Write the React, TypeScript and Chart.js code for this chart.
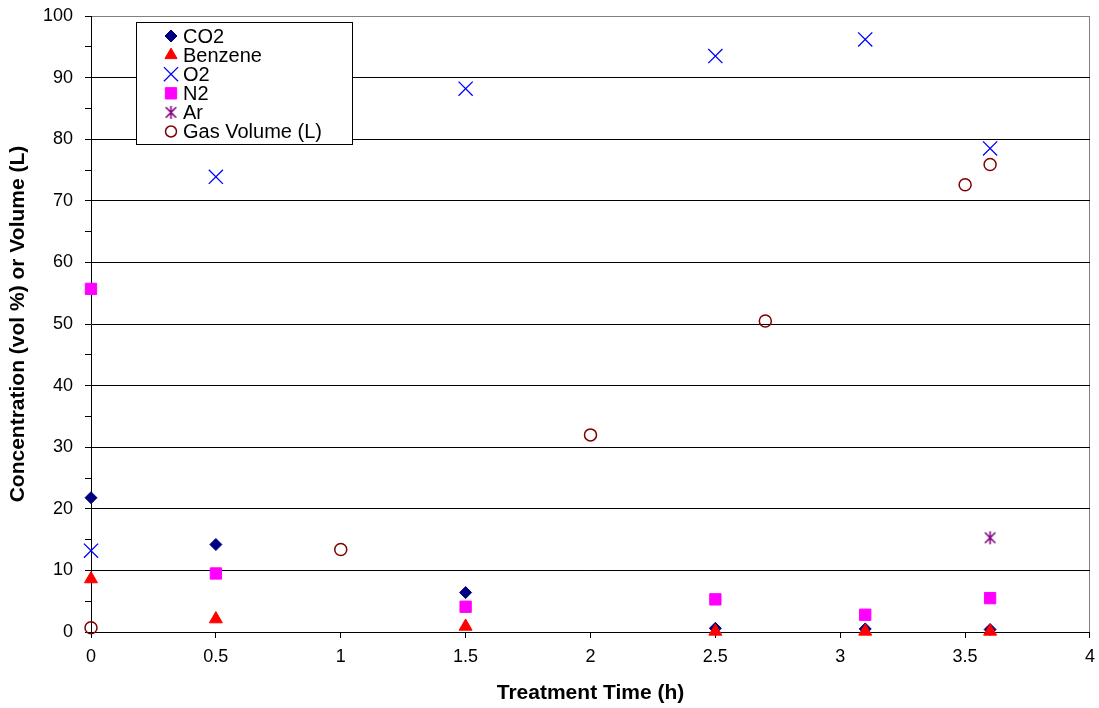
import React, { useEffect, useRef } from "react";
import { Chart, registerables } from "chart.js";
import { drawPoint } from "chart.js/helpers";

Chart.register(...registerables);

const seriesNames = ["CO2", "Benzene", "O2", "N2", "Ar", "Gas Volume (L)"];

const co2Time = [0, 0.5, 1.5, 2.5, 3.1, 3.6];
const co2Values = [21.8, 14.2, 6.4, 0.6, 0.5, 0.4];

const benzeneTime = [0, 0.5, 1.5, 2.5, 3.1, 3.6];
const benzeneValues = [8.6, 2.1, 0.9, 0.1, 0.1, 0.1];

const o2Time = [0, 0.5, 1.5, 2.5, 3.1, 3.6];
const o2Values = [13.2, 73.9, 88.2, 93.5, 96.2, 78.5];

const n2Time = [0, 0.5, 1.5, 2.5, 3.1, 3.6];
const n2Values = [55.7, 9.5, 4.1, 5.3, 2.8, 5.5];

const arTime = [3.6];
const arValues = [15.3];

const gasTime = [0, 1, 2, 2.7, 3.5, 3.6];
const gasValues = [0.7, 13.4, 32.0, 50.5, 72.6, 75.9];

const FONT = '"Liberation Sans", Arial, sans-serif';

function zip(xs: number[], ys: number[]) {
  return xs.map((x, i) => ({ x, y: ys[i] }));
}

function makeAsterisk(color: string, size: number): HTMLCanvasElement {
  const c = document.createElement("canvas");
  c.width = size;
  c.height = size;
  const g = c.getContext("2d")!;
  g.strokeStyle = color;
  g.lineWidth = 1.6;
  const m = size / 2;
  const r = size / 2 - 1;
  g.beginPath();
  g.moveTo(m, m - r);
  g.lineTo(m, m + r);
  g.moveTo(m - r * 0.8, m - r * 0.8);
  g.lineTo(m + r * 0.8, m + r * 0.8);
  g.moveTo(m + r * 0.8, m - r * 0.8);
  g.lineTo(m - r * 0.8, m + r * 0.8);
  g.stroke();
  return c;
}

const legendPlugin = {
  id: "boxLegend",
  afterDraw(chart: any) {
    const ctx = chart.ctx as CanvasRenderingContext2D;
    ctx.save();
    const x0 = 136.5, y0 = 22.5, w = 216, h = 122;
    ctx.fillStyle = "#fff";
    ctx.fillRect(x0, y0, w, h);
    ctx.strokeStyle = "#000";
    ctx.lineWidth = 1;
    ctx.strokeRect(x0, y0, w, h);
    chart.data.datasets.forEach((ds: any, i: number) => {
      const y = 36 + i * 19.1;
      const cx = 171;
      if (ds.pointStyle instanceof HTMLCanvasElement) {
        const img = ds.pointStyle as HTMLCanvasElement;
        ctx.drawImage(img, cx - img.width / 2, y - img.height / 2);
      } else {
        ctx.fillStyle = ds.backgroundColor;
        ctx.strokeStyle = ds.borderColor;
        ctx.lineWidth = ds.borderWidth;
        drawPoint(ctx, {
          pointStyle: ds.pointStyle,
          radius: ds.legendRadius,
          rotation: 0,
          borderWidth: ds.borderWidth,
        } as any, cx, y);
      }
      ctx.fillStyle = "#000";
      ctx.font = `20px ${FONT}`;
      ctx.textBaseline = "middle";
      ctx.textAlign = "left";
      ctx.fillText(ds.label, 183, y + 1);
    });
    ctx.restore();
  },
};

export default function App() {
  const ref = useRef<HTMLCanvasElement | null>(null);

  useEffect(() => {
    document.body.style.margin = "0";
    if (!ref.current) return;
    const arMarker = makeAsterisk("#800080", 15);
    const chart = new Chart(ref.current, {
      type: "scatter",
      data: {
        datasets: [
          {
            label: seriesNames[0],
            data: zip(co2Time, co2Values),
            pointStyle: "rectRot",
            pointRadius: 6,
            legendRadius: 6,
            backgroundColor: "#000080",
            borderColor: "#000080",
            borderWidth: 1,
            order: 0,
          } as any,
          {
            label: seriesNames[1],
            data: zip(benzeneTime, benzeneValues),
            pointStyle: "triangle",
            pointRadius: 7.5,
            legendRadius: 7,
            backgroundColor: "#FF0000",
            borderColor: "#FF0000",
            borderWidth: 1,
            order: -1,
          },
          {
            label: seriesNames[2],
            data: zip(o2Time, o2Values),
            pointStyle: "crossRot",
            pointRadius: 10,
            legendRadius: 10,
            backgroundColor: "#0000FF",
            borderColor: "#0000FF",
            borderWidth: 1.3,
            order: -2,
          },
          {
            label: seriesNames[3],
            data: zip(n2Time, n2Values),
            pointStyle: "rect",
            pointRadius: 8,
            legendRadius: 8,
            backgroundColor: "#FF00FF",
            borderColor: "#FF00FF",
            borderWidth: 1,
            order: -3,
          },
          {
            label: seriesNames[4],
            data: zip(arTime, arValues),
            pointStyle: arMarker,
            pointRadius: 7,
            legendRadius: 7,
            backgroundColor: "#800080",
            borderColor: "#800080",
            borderWidth: 1,
            order: -4,
          },
          {
            label: seriesNames[5],
            data: zip(gasTime, gasValues),
            pointStyle: "circle",
            pointRadius: 6,
            legendRadius: 5.5,
            backgroundColor: "rgba(0,0,0,0)",
            borderColor: "#800000",
            borderWidth: 1.5,
            order: -5,
          },
        ] as any,
      },
      options: {
        animation: false,
        responsive: false,
        events: [],
        clip: false as any,
        layout: { padding: { left: 0, right: 0, top: 16, bottom: 0 } },
        plugins: {
          legend: { display: false },
          tooltip: { enabled: false },
        },
        scales: {
          x: {
            type: "linear",
            min: 0,
            max: 4,
            ticks: {
              stepSize: 0.5,
              color: "#000",
              font: { family: FONT, size: 18 },
              padding: 8,
              maxRotation: 0,
              autoSkip: false,
              callback: (v: any) => String(Number(v)),
            },
            grid: {
              drawOnChartArea: true,
              color: (c: any) => (c.tick && c.tick.value === 4 ? "#808080" : "rgba(0,0,0,0)"),
              tickColor: "#000",
              tickLength: 6,
              lineWidth: 1,
            },
            border: { color: "#000", width: 1 },
            title: {
              display: true,
              text: "Treatment Time (h)",
              color: "#000",
              font: { family: FONT, size: 21, weight: "bold" },
              padding: { top: 4, bottom: 2 },
            },
            afterFit: (s: any) => {
              s.height = 708 - 632;
            },
          },
          y: {
            type: "linear",
            min: 0,
            max: 100,
            ticks: {
              stepSize: 5,
              color: "#000",
              font: { family: FONT, size: 18 },
              padding: 12,
              autoSkip: false,
              callback: (v: any) => (Number(v) % 10 === 0 ? String(v) : ""),
            },
            grid: {
              color: (c: any) => {
                const v = c.tick ? c.tick.value : 0;
                if (v === 100) return "#808080";
                return v % 10 === 0 ? "#000" : "rgba(0,0,0,0)";
              },
              tickColor: "#000",
              tickLength: 6,
              lineWidth: 1,
            },
            border: { color: "#000", width: 1 },
            title: {
              display: true,
              text: "Concentration (vol %) or Volume (L)",
              color: "#000",
              font: { family: FONT, size: 21, weight: "bold" },
              padding: { top: 6, bottom: 4 },
            },
            afterFit: (s: any) => {
              s.width = 91;
              s.paddingTop = 0;
              s.paddingBottom = 0;
            },
          },
        },
      },
      plugins: [legendPlugin],
    });
    return () => chart.destroy();
  }, []);

  return (
    <div style={{ width: 1099, height: 708, overflow: "hidden" }}>
      <canvas ref={ref} width={1103} height={708} style={{ display: "block" }} />
    </div>
  );
}
